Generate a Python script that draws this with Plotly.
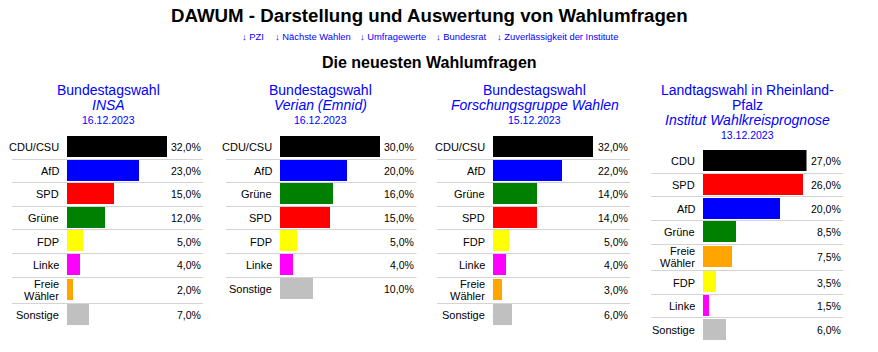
import plotly.graph_objects as go

W, H = 878, 352
FONT = "Liberation Sans, Arial, sans-serif"

# ---------------- data ----------------
page_title = "DAWUM - Darstellung und Auswertung von Wahlumfragen"
nav_links = ["↓ PZI", "↓ Nächste Wahlen", "↓ Umfragewerte", "↓ Bundesrat", "↓ Zuverlässigkeit der Institute"]
section_title = "Die neuesten Wahlumfragen"

elections = ["Bundestagswahl", "Bundestagswahl", "Bundestagswahl", "Landtagswahl in Rheinland-\nPfalz"]
institutes = ["INSA", "Verian (Emnid)", "Forschungsgruppe Wahlen", "Institut Wahlkreisprognose"]
dates = ["16.12.2023", "16.12.2023", "15.12.2023", "13.12.2023"]

p1_parties = ["CDU/CSU", "AfD", "SPD", "Grüne", "FDP", "Linke", "Freie\nWähler", "Sonstige"]
p1_values = [32.0, 23.0, 15.0, 12.0, 5.0, 4.0, 2.0, 7.0]
p2_parties = ["CDU/CSU", "AfD", "Grüne", "SPD", "FDP", "Linke", "Sonstige"]
p2_values = [30.0, 20.0, 16.0, 15.0, 5.0, 4.0, 10.0]
p3_parties = ["CDU/CSU", "AfD", "Grüne", "SPD", "FDP", "Linke", "Freie\nWähler", "Sonstige"]
p3_values = [32.0, 22.0, 14.0, 14.0, 5.0, 4.0, 3.0, 6.0]
p4_parties = ["CDU", "SPD", "AfD", "Grüne", "Freie\nWähler", "FDP", "Linke", "Sonstige"]
p4_values = [27.0, 26.0, 20.0, 8.5, 7.5, 3.5, 1.5, 6.0]

party_colors = {
    "CDU/CSU": "#000000", "CDU": "#000000", "AfD": "#0000ff", "SPD": "#ff0000",
    "Grüne": "#008000", "FDP": "#ffff00", "Linke": "#ff00ff",
    "Freie\nWähler": "#ffa500", "Sonstige": "#c0c0c0",
}

panels = [(p1_parties, p1_values), (p2_parties, p2_values),
          (p3_parties, p3_values), (p4_parties, p4_values)]

# ---------------- layout constants (pixels) ----------------
header_cx = [108, 320.5, 534.5, 747.5]
label_right = [61, 274, 487, 697]
bar_left = [67, 280, 493, 703]
bar_maxw = [100, 100, 100, 103.5]
value_right = [203, 416, 629.5, 843]
line_left = [12, 226, 437, 651]
line_right = [203, 416.5, 630, 843]
rows_top = [135.4, 135.4, 135.4, 149.7]
header_y0 = [89.8, 89.8, 89.8, 89.5]
ROW_H1, ROW_H2 = 23.6, 26.6
BAR_H, BAR_OFF = 21.0, -0.7
BLUE = "#0000ff"


def px(x):
    return x / W


def py(y):
    return 1 - y / H


fig = go.Figure()
annotations = []
shapes = []
layout_axes = {}

for i, (parties, values) in enumerate(panels):
    n = i + 1
    xa = "x" if n == 1 else f"x{n}"
    ya = "y" if n == 1 else f"y{n}"
    # row geometry
    centers, bounds = [], []
    top = rows_top[i]
    for p in parties:
        h = ROW_H2 if "\n" in p else ROW_H1
        centers.append(top + h / 2)
        top += h
        bounds.append(top)
    fig.add_trace(go.Bar(
        x=values, y=[c + BAR_OFF for c in centers], orientation="h",
        width=[BAR_H] * len(values),
        marker=dict(color=[party_colors[p] for p in parties], line=dict(width=0)),
        xaxis=xa, yaxis=ya, hoverinfo="skip", showlegend=False,
    ))
    mx = max(values)
    layout_axes[f"xaxis{n if n > 1 else ''}"] = dict(
        domain=[px(bar_left[i]), px(bar_left[i] + bar_maxw[i])], range=[0, mx],
        visible=False, fixedrange=True, anchor=ya)
    layout_axes[f"yaxis{n if n > 1 else ''}"] = dict(
        domain=[0, 1], range=[H, 0], visible=False, fixedrange=True, anchor=xa)

    # party labels & values
    for p, v, c in zip(parties, values, centers):
        lines = p.split("\n")
        for k, ln in enumerate(lines):
            yy = c + (k - (len(lines) - 1) / 2) * 12
            annotations.append(dict(
                text=ln, x=px(label_right[i]), y=py(yy), xref="paper", yref="paper",
                xanchor="right", yanchor="middle", showarrow=False,
                font=dict(family=FONT, size=11, color="#000000")))
        annotations.append(dict(
            text=f"{v:.1f}".replace(".", ",") + "%", x=px(value_right[i]), y=py(c),
            xref="paper", yref="paper", xanchor="right", yanchor="middle",
            showarrow=False, font=dict(family=FONT, size=10.5, color="#000000")))
    # separators
    for b in bounds[:-1]:
        yb = int(b) + 0.5
        shapes.append(dict(type="line", xref="paper", yref="paper",
                           x0=px(line_left[i]), x1=px(line_right[i]), y0=py(yb), y1=py(yb),
                           line=dict(color="#d3d3d3", width=1)))
    # headers
    hy = header_y0[i]
    for ln in elections[i].split("\n"):
        annotations.append(dict(
            text=ln, x=px(header_cx[i]), y=py(hy), xref="paper", yref="paper",
            xanchor="center", yanchor="middle", showarrow=False,
            font=dict(family=FONT, size=14, color=BLUE)))
        hy += 15.5
    annotations.append(dict(
        text=f"<i>{institutes[i]}</i>", x=px(header_cx[i]), y=py(hy), xref="paper", yref="paper",
        xanchor="center", yanchor="middle", showarrow=False,
        font=dict(family=FONT, size=14, color=BLUE)))
    hy += 14.2
    annotations.append(dict(
        text=dates[i], x=px(header_cx[i]), y=py(hy), xref="paper", yref="paper",
        xanchor="center", yanchor="middle", showarrow=False,
        font=dict(family=FONT, size=10.5, color=BLUE)))

# page title, nav links, section title
annotations.append(dict(
    text=f"<b>{page_title}</b>", x=px(429), y=py(16), xref="paper", yref="paper",
    xanchor="center", yanchor="middle", showarrow=False,
    font=dict(family=FONT, size=18.7, color="#000000")))
nav_x = [240, 272.7, 357.7, 434.3, 495]
for t, xl in zip(nav_links, nav_x):
    annotations.append(dict(
        text=t, x=px(xl), y=py(36), xref="paper", yref="paper",
        xanchor="left", yanchor="middle", showarrow=False,
        font=dict(family=FONT, size=9.4, color=BLUE)))
annotations.append(dict(
    text=f"<b>{section_title}</b>", x=px(429.5), y=py(62), xref="paper", yref="paper",
    xanchor="center", yanchor="middle", showarrow=False,
    font=dict(family=FONT, size=16, color="#000000")))

fig.update_layout(
    width=W, height=H, margin=dict(l=0, r=0, t=0, b=0),
    paper_bgcolor="#ffffff", plot_bgcolor="rgba(0,0,0,0)",
    bargap=0, annotations=annotations, shapes=shapes, showlegend=False,
    **layout_axes,
)

fig.write_html("out.html", config={"displayModeBar": False})
